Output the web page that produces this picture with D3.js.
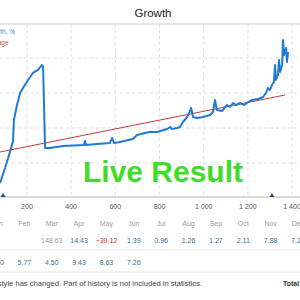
<!DOCTYPE html>
<html>
<head>
<meta charset="utf-8">
<script src="https://cdn.jsdelivr.net/npm/d3@7"></script>
<style>
  html, body { margin: 0; padding: 0; background: #fff; }
  #chart { width: 300px; height: 300px; overflow: hidden; }
  text { font-family: "Liberation Sans", Arial, sans-serif; }
</style>
</head>
<body>
<div id="chart"></div>
<script>
// growth curve: trade number on x, growth in % on y
let trades = [78, 101, 123, 137, 141, 155, 169, 182, 205, 227, 250, 268, 273, 282, 304, 363,
  458, 463, 467, 517, 576, 585, 594, 621, 680, 698, 734, 757, 789, 834, 848, 857, 879, 893,
  906, 925, 934, 943, 952, 970, 997, 1029, 1042, 1051, 1060, 1083, 1106, 1119, 1133, 1146,
  1165, 1183, 1201, 1219, 1246, 1269, 1282, 1291, 1300, 1309, 1318, 1323, 1327, 1336, 1341,
  1346, 1355, 1359, 1364, 1373, 1377, 1382];
let growth = [214, 429, 657, 814, 1114, 1329, 1500, 1571, 1686, 1786, 1829, 1900, 1871, 714, 714, 743,
  757, 814, 757, 771, 786, 857, 786, 800, 843, 900, 929, 943, 943, 986, 1014, 986, 1000, 1014,
  1086, 1157, 1214, 1286, 1157, 1143, 1157, 1186, 1229, 1400, 1257, 1243, 1329, 1300, 1357, 1329,
  1357, 1329, 1371, 1400, 1414, 1443, 1500, 1571, 1543, 1614, 1657, 1900, 1686, 1757, 1971,
  1800, 1900, 2257, 2043, 2143, 1943, 2086];

// trend line (start and end)
let averageTrades = [78, 1368];
let averageGrowth = [657, 1471];

// deposit markers on the axis
let markerTrades = [92, 1309];

let xTicks = [200, 400, 600, 800, 1000, 1200, 1400];
let yTicks = [500, 1000, 1500, 2000];

// monthly table
let months = ["Jan", "Feb", "Mar", "Apr", "May", "Jun", "Jul", "Aug", "Sep", "Oct", "Nov", "Dec"];
let firstYear = [null, null, 148.63, 14.43, -39.12, 1.39, 0.96, 1.26, 1.27, 2.11, 7.88, 7.28];
let secondYear = [2.40, 5.77, 4.50, 9.43, 8.63, 7.26, null, null, null, null, null, null];
let partialMonths = ["Mar"];

function drawGrowth(container) {
  let width = 300;
  let height = 300;
  let svg = d3.select(container).append("svg")
    .attr("width", width)
    .attr("height", height);

  // plot area
  let x = d3.scaleLinear().domain([78, 1436]).range([0, 300]);
  let y = d3.scaleLinear().domain([0, 2500]).range([198, 23]);
  let plotTop = 24;
  let plotBottom = 197;

  // title
  svg.append("text")
    .attr("x", 153)
    .attr("y", 16.5)
    .attr("text-anchor", "middle")
    .attr("fill", "#222")
    .attr("style", "font-size: 11.5px")
    .text("Growth");
  svg.append("line")
    .attr("x1", 0).attr("x2", width)
    .attr("y1", plotTop).attr("y2", plotTop)
    .attr("stroke", "#cfcfcf")
    .attr("stroke-width", 1);

  // dashed grid
  svg.selectAll(".vgrid").data(xTicks).enter().append("line")
    .attr("x1", d => x(d)).attr("x2", d => x(d))
    .attr("y1", plotTop).attr("y2", plotBottom)
    .attr("stroke", "#dedede")
    .attr("stroke-dasharray", "3,3");
  svg.selectAll(".hgrid").data(yTicks).enter().append("line")
    .attr("x1", 0).attr("x2", width)
    .attr("y1", d => y(d)).attr("y2", d => y(d))
    .attr("stroke", "#dedede")
    .attr("stroke-dasharray", "3,3");

  // x axis line and labels
  svg.append("line")
    .attr("x1", 0).attr("x2", width)
    .attr("y1", plotBottom).attr("y2", plotBottom)
    .attr("stroke", "#b5b5b5");
  let fmt = d3.formatLocale({ decimal: ".", thousands: " ", grouping: [3], currency: ["", ""] }).format(",");
  svg.selectAll(".xlabel").data(xTicks).enter().append("text")
    .attr("x", d => x(d))
    .attr("y", 208.5)
    .attr("text-anchor", "middle")
    .attr("fill", "#555")
    .attr("style", "font-size: 7px")
    .text(d => fmt(d));

  // live result watermark
  svg.append("text")
    .attr("x", 163)
    .attr("y", 182)
    .attr("text-anchor", "middle")
    .attr("fill", "#3fdc2c")
    .attr("style", "font-size: 30px; font-weight: bold")
    .text("Live Result");

  // trend line
  let avgLine = d3.line().x(d => x(d[0])).y(d => y(d[1]));
  svg.append("path")
    .attr("d", avgLine(d3.zip(averageTrades, averageGrowth)))
    .attr("fill", "none")
    .attr("stroke", "#c83a3a")
    .attr("stroke-width", 1);

  // growth line
  let growthLine = d3.line().x(d => x(d[0])).y(d => y(d[1]));
  svg.append("path")
    .attr("d", growthLine(d3.zip(trades, growth)))
    .attr("fill", "none")
    .attr("stroke", "#1f7ad6")
    .attr("stroke-width", 2)
    .attr("stroke-linejoin", "round");

  // deposit markers
  svg.selectAll(".marker").data(markerTrades).enter().append("path")
    .attr("d", d => "M" + (x(d) - 2.5) + " " + plotBottom + " L" + x(d) + " " + (plotBottom - 4) + " L" + (x(d) + 2.5) + " " + plotBottom + " Z")
    .attr("fill", "#1d4f86");

  // legend, clipped on the left
  svg.append("text")
    .attr("x", 15)
    .attr("y", 34)
    .attr("text-anchor", "end")
    .attr("fill", "#3c80d0")
    .attr("style", "font-size: 6.5px")
    .text("Growth, %");
  svg.append("text")
    .attr("x", 8.5)
    .attr("y", 44.5)
    .attr("text-anchor", "end")
    .attr("fill", "#c8504a")
    .attr("style", "font-size: 6.5px")
    .text("Average");

  // monthly table
  let col = d3.scalePoint().domain(months).range([-3, 298]);
  svg.selectAll(".month").data(months).enter().append("text")
    .attr("x", d => col(d))
    .attr("y", 225.5)
    .attr("text-anchor", "middle")
    .attr("fill", "#9a9a9a")
    .attr("style", "font-size: 7px")
    .text(d => d);

  let valueColor = (v, m) => partialMonths.includes(m) ? "#9a9a9a" : v < 0 ? "#c0392b" : "#336f9c";
  let rows = [firstYear, secondYear];
  let rowY = [242.5, 264.5];
  rows.forEach((values, r) => {
    let cells = months.map((m, i) => ({ month: m, value: values[i] })).filter(d => d.value !== null);
    svg.selectAll(".row" + r).data(cells).enter().append("text")
      .attr("x", d => col(d.month))
      .attr("y", rowY[r])
      .attr("text-anchor", "middle")
      .attr("fill", d => r == 0 ? valueColor(d.value, d.month) : "#3f6f93")
      .attr("style", "font-size: 7px")
      .text(d => d3.format(".2f")(d.value));
  });
  [250, 272].forEach(ly => {
    svg.append("line")
      .attr("x1", 0).attr("x2", width)
      .attr("y1", ly).attr("y2", ly)
      .attr("stroke", "#e6e6e6");
  });

  // footnote
  svg.append("text")
    .attr("x", 202)
    .attr("y", 285.5)
    .attr("text-anchor", "end")
    .attr("fill", "#444")
    .attr("style", "font-size: 7.6px")
    .text("Trading style has changed. Part of history is not included in statistics.");
  svg.append("text")
    .attr("x", 283)
    .attr("y", 285.5)
    .attr("fill", "#333")
    .attr("style", "font-size: 7px; font-weight: bold")
    .text("Total");
}

drawGrowth(document.getElementById("chart"));
</script>
</body>
</html>
